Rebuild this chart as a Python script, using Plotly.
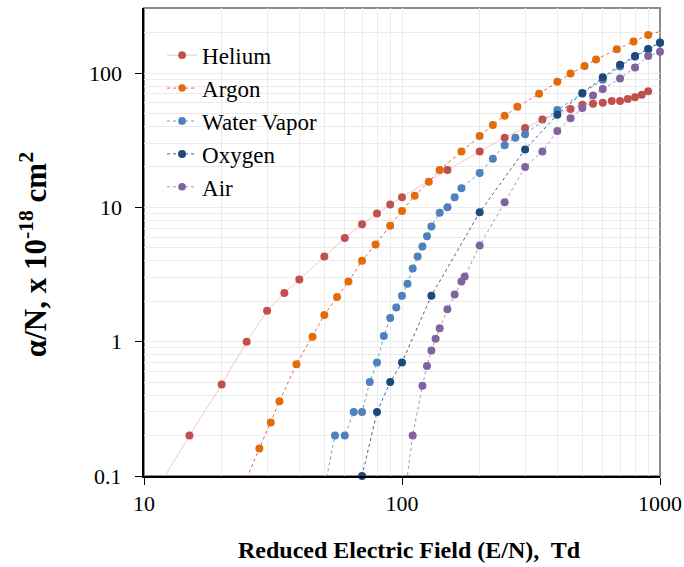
import math
import plotly.graph_objects as go

# ---------------- data ----------------
helium_x = [10, 15, 20, 25, 30, 35, 40, 50, 60, 70, 80, 90, 100, 150, 200, 250, 300, 350,
            450, 500, 550, 600, 650, 700, 750, 800, 850, 900]
helium_y = [0.055, 0.2, 0.48, 1.0, 1.7, 2.3, 2.9, 4.3, 5.9, 7.5, 9.0, 10.5, 11.9, 19, 26, 33, 39, 45,
            54, 58, 59, 60, 62, 62, 64, 66, 69, 73]

argon_x = [24, 28, 31, 33.5, 39, 45, 50, 56, 62, 70, 79, 90, 100, 112, 127, 140, 170, 200,
           225, 250, 280, 340, 400, 450, 510, 565, 680, 790, 900, 1100]
argon_y = [0.08, 0.16, 0.25, 0.36, 0.68, 1.09, 1.58, 2.15, 2.8, 4.0, 5.3, 7.3, 9.4, 12.2, 15.5, 19, 26, 34,
           41, 48, 56, 70, 86, 99, 113, 126, 150, 172, 192, 215]

water_x = [50, 55, 60, 65, 70, 75, 80, 85, 90, 95, 100, 105, 110, 115, 120, 125, 130, 140, 150,
           160, 170, 200, 225, 250, 275, 300, 400, 500, 600, 700, 800, 900, 1000]
water_y = [0.08, 0.2, 0.2, 0.3, 0.3, 0.5, 0.7, 1.1, 1.5, 1.8, 2.2, 2.7, 3.5, 4.3, 5.1, 6.1, 7.2, 9.1, 10,
           11.9, 13.9, 18, 23, 29, 33, 35, 53, 70, 89, 112, 132, 150, 167]

oxygen_x = [70, 80, 90, 100, 130, 200, 300, 400, 500, 600, 700, 800, 900, 1000]
oxygen_y = [0.1, 0.3, 0.5, 0.7, 2.2, 9.2, 27, 49, 71, 93, 115, 134, 151, 169]

air_x = [100, 110, 120, 125, 130, 135, 140, 150, 160, 170, 175, 200, 250, 300, 350, 400, 450,
         500, 550, 600, 700, 800, 900, 1000]
air_y = [0.05, 0.2, 0.47, 0.66, 0.86, 1.05, 1.26, 1.74, 2.24, 2.8, 3.05, 5.2, 10.9, 20, 26, 37, 46,
         55, 68, 76, 91, 110, 134, 144]

x_tickvals = [10, 100, 1000]
x_ticktext = ["10", "100", "1000"]
y_tickvals = [0.1, 1, 10, 100]
y_ticktext = ["0.1", "1", "10", "100"]

FONT = "Liberation Serif"
GRID = "#ebebeb"
X_MIN, X_MAX, Y_MIN = 10, 1000, 0.1


def visible_sizes(xs, ys, size=8):
    # points outside the axis window only steer the line; their marker is hidden
    return [size if (X_MIN <= x <= X_MAX and y >= Y_MIN * 0.99) else 0 for x, y in zip(xs, ys)]


fig = go.Figure()

series = [
    ("Helium", helium_x, helium_y, "#C0504D", "#F2C6C6", "solid"),
    ("Argon", argon_x, argon_y, "#E36C0A", "#E0655A", "dot"),
    ("Water Vapor", water_x, water_y, "#4F81BD", "#6F9BD0", "dot"),
    ("Oxygen", oxygen_x, oxygen_y, "#1F497D", "#3A6496", "dot"),
    ("Air", air_x, air_y, "#8064A2", "#A893C4", "dot"),
]

for name, xs, ys, mcol, lcol, dash in series:
    fig.add_trace(go.Scatter(
        x=xs, y=ys, name=name, mode="lines+markers",
        line=dict(color=lcol, width=1, dash=dash),
        marker=dict(color=mcol, size=visible_sizes(xs, ys), opacity=1,
                    line=dict(width=0)),
        cliponaxis=False,
    ))

fig.update_layout(
    width=684, height=567,
    margin=dict(l=144, r=24, t=8, b=91),
    paper_bgcolor="white", plot_bgcolor="white",
    font=dict(family=FONT, color="black", size=22),
    legend=dict(
        x=0.035, y=0.945, xanchor="left", yanchor="top",
        bgcolor="rgba(0,0,0,0)", font=dict(family=FONT, size=23),
        tracegroupgap=0,
    ),
    showlegend=True,
)

fig.update_xaxes(
    type="log", range=[1, 3],
    tickvals=x_tickvals, ticktext=x_ticktext,
    ticks="outside", ticklen=7, tickcolor="black", tickwidth=1,
    showline=True, linecolor="black", linewidth=1.5,
    showgrid=True, gridcolor=GRID, gridwidth=1,
    minor=dict(dtick="D1", showgrid=True, gridcolor=GRID, gridwidth=1, ticks=""),
    tickfont=dict(family=FONT, size=22),
    zeroline=False, automargin=False,
)

fig.update_yaxes(
    type="log", range=[-1, 2.484],
    tickvals=y_tickvals, showticklabels=False,
    ticks="outside", ticklen=7, tickcolor="black", tickwidth=1,
    showline=True, linecolor="black", linewidth=1.5,
    showgrid=True, gridcolor=GRID, gridwidth=1,
    minor=dict(dtick="D1", showgrid=True, gridcolor=GRID, gridwidth=1, ticks=""),
    zeroline=False, automargin=False,
)

# y tick labels, set a little further from the axis than Plotly's default
for v, t in zip(y_tickvals, y_ticktext):
    fig.add_annotation(text=t, xref="paper", yref="y", x=0, y=math.log10(v),
                       xanchor="right", yanchor="middle", xshift=-20,
                       showarrow=False, font=dict(family=FONT, size=22))

fig.add_shape(type="rect", xref="paper", yref="paper", x0=0, x1=1, y0=0, y1=1,
              line=dict(color="#8c8c8c", width=2), layer="between")

# axis titles
fig.add_annotation(text="<b>Reduced Electric Field (E/N),&nbsp; Td</b>",
                   xref="paper", yref="paper", x=0.514, y=-0.158,
                   xanchor="center", yanchor="middle", showarrow=False,
                   font=dict(family=FONT, size=24))
fig.add_annotation(text="<b>α/N, x 10<sup>-18</sup> cm<sup>2</sup></b>",
                   xref="paper", yref="paper", x=-0.215, y=0.472,
                   xanchor="center", yanchor="middle", textangle=-90, showarrow=False,
                   font=dict(family=FONT, size=31))

fig.write_html("out.html")
